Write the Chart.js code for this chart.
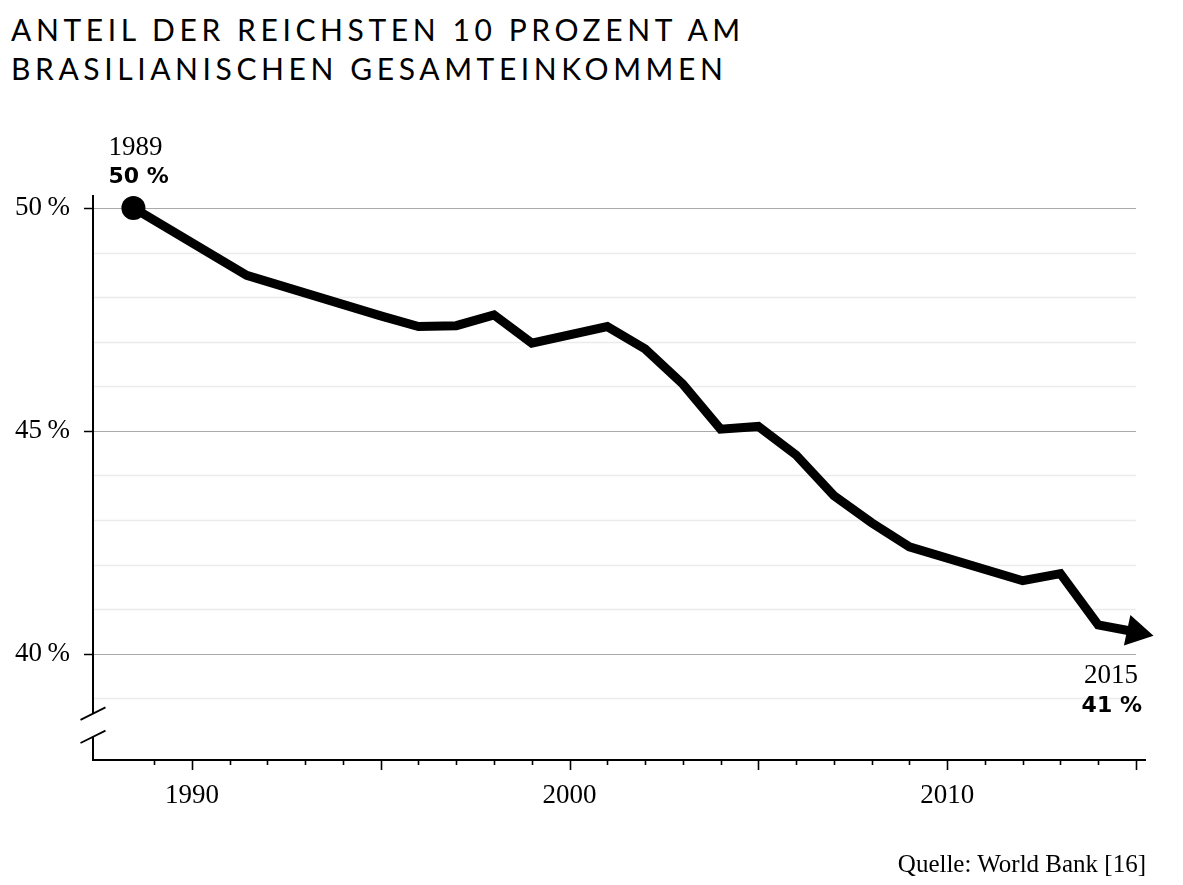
<!DOCTYPE html>
<html lang="de">
<head>
<meta charset="utf-8">
<title>Anteil der reichsten 10 Prozent am brasilianischen Gesamteinkommen</title>
<script src="https://cdn.jsdelivr.net/npm/chart.js@4.4.1/dist/chart.umd.min.js"></script>
<style>
  html, body { margin: 0; padding: 0; background: #fff; }
  body { width: 1183px; height: 885px; position: relative; overflow: hidden; }
  #title {
    position: absolute; left: 11px; top: 10px; margin: 0;
    font: 400 30px/39px Lato, sans-serif; letter-spacing: 4.6px; color: #000;
  }
  #source {
    position: absolute; right: 37px; top: 851px;
    font: 25px/25px "Liberation Serif", serif; color: #000;
  }
  canvas { position: absolute; left: 0; top: 0; }
</style>
</head>
<body>
<h1 id="title">ANTEIL DER REICHSTEN 10 PROZENT AM<br>BRASILIANISCHEN GESAMTEINKOMMEN</h1>
<canvas id="chart" width="1183" height="885"></canvas>
<div id="source">Quelle: World Bank [16]</div>
<script>
  // data (first two points sit off the yearly grid in the original)
  const years = [1988.45, 1991.45, 1995, 1996, 1997, 1998, 1999, 2001, 2002, 2003, 2004,
                 2005, 2006, 2007, 2008, 2009, 2012, 2013, 2014, 2015];
  const shares = [50.0, 48.49, 47.58, 47.34, 47.36, 47.60, 46.97, 47.34, 46.84, 46.05, 45.04,
                  45.10, 44.46, 43.55, 42.94, 42.40, 41.64, 41.80, 40.65, 40.49];

  const xTickLabels = [1990, 2000, 2010];
  const xMinorTicks = [];
  for (let yr = 1989; yr <= 2015; yr++) xMinorTicks.push(yr);
  const yTickLabels = [40, 45, 50];
  const yGridLines = [39, 40, 41, 42, 43, 44, 45, 46, 47, 48, 49, 50];
  const yBreak = [38.66, 38.14];

  const startLabel = ['1989', '50 %'];
  const endLabel = ['2015', '41 %'];

  const serif = '"Liberation Serif", "DejaVu Serif", serif';

  const decor = {
    id: 'decor',
    beforeDatasetsDraw(chart){
      const {ctx, chartArea} = chart;
      const x = chart.scales.x, y = chart.scales.y;
      const left = chartArea.left;
      const gridEnd = x.getPixelForValue(2015);
      ctx.save();
      // horizontal grid
      yGridLines.forEach(v => {
        const py = Math.round(y.getPixelForValue(v)) + 0.5;
        const major = v % 5 === 0;
        ctx.strokeStyle = major ? '#a9a9a9' : '#ebebeb';
        ctx.lineWidth = major ? 1.2 : 1.6;
        ctx.beginPath();
        ctx.moveTo(left, py);
        ctx.lineTo(gridEnd, py);
        ctx.stroke();
        if(major){
          ctx.strokeStyle = '#000';
          ctx.lineWidth = 1.5;
          ctx.beginPath();
          ctx.moveTo(left - 9, py);
          ctx.lineTo(left, py);
          ctx.stroke();
        }
      });
      // y axis with break
      const b1 = y.getPixelForValue(yBreak[0]);
      const b2 = y.getPixelForValue(yBreak[1]);
      ctx.strokeStyle = '#000';
      ctx.lineWidth = 2;
      ctx.beginPath();
      ctx.moveTo(left, chartArea.top);
      ctx.lineTo(left, b1);
      ctx.moveTo(left, b2);
      ctx.lineTo(left, chartArea.bottom);
      ctx.stroke();
      ctx.lineWidth = 1.8;
      [b1, b2].forEach(by => {
        ctx.beginPath();
        ctx.moveTo(left - 12.5, by + 6.2);
        ctx.lineTo(left + 12.5, by - 6.2);
        ctx.stroke();
      });
      // x ticks
      ctx.lineWidth = 1.6;
      xMinorTicks.forEach(yr => {
        const px = Math.round(x.getPixelForValue(yr)) + 0.5;
        const len = yr % 5 === 0 ? 10 : 5;
        ctx.beginPath();
        ctx.moveTo(px, chartArea.bottom);
        ctx.lineTo(px, chartArea.bottom + len);
        ctx.stroke();
      });
      ctx.restore();
    },
    afterDatasetsDraw(chart){
      const {ctx} = chart;
      const pts = chart.getDatasetMeta(0).data;
      const p0 = pts[0];
      const pN = pts[pts.length - 1];
      ctx.save();
      ctx.fillStyle = '#000';
      ctx.textBaseline = 'alphabetic';
      ctx.textAlign = 'left';
      ctx.font = '27px ' + serif;
      ctx.fillText(startLabel[0], p0.x - 25, p0.y - 53);
      ctx.font = 'bold 22px "DejaVu Sans", sans-serif';
      ctx.fillText(startLabel[1], p0.x - 25, p0.y - 25);
      ctx.textAlign = 'right';
      ctx.font = '27px ' + serif;
      ctx.fillText(endLabel[0], pN.x + 2, pN.y + 51);
      ctx.font = 'bold 22px "DejaVu Sans", sans-serif';
      ctx.fillText(endLabel[1], pN.x + 6, pN.y + 80);
      ctx.restore();
    }
  };

  const last = years.length - 1;

  new Chart(document.getElementById('chart'), {
    type: 'line',
    data: {
      datasets: [{
        data: years.map((yr, i) => ({x: yr, y: shares[i]})),
        borderColor: '#000',
        borderWidth: 9,
        borderJoinStyle: 'miter',
        tension: 0,
        fill: false,
        clip: false,
        pointStyle: years.map((_, i) => i === 0 ? 'circle' : (i === last ? 'triangle' : false)),
        pointRadius: years.map((_, i) => i === 0 ? 12 : (i === last ? 18 : 0)),
        pointRotation: years.map((_, i) => i === last ? 102 : 0),
        pointBackgroundColor: '#000',
        pointBorderWidth: 0
      }]
    },
    options: {
      responsive: false,
      devicePixelRatio: 1,
      animation: false,
      events: [],
      layout: { padding: { top: 195, right: 38, left: 0, bottom: 0 } },
      plugins: { legend: { display: false }, tooltip: { enabled: false } },
      scales: {
        x: {
          type: 'linear',
          min: 1987.38,
          max: 2015.24,
          afterFit: s => { s.height = 125; },
          afterBuildTicks: s => { s.ticks = xTickLabels.map(v => ({value: v})); },
          grid: { display: false, drawTicks: false },
          border: { display: true, color: '#000', width: 2 },
          ticks: {
            color: '#000',
            padding: 20,
            font: { family: serif, size: 27 },
            maxRotation: 0,
            callback: v => String(v)
          }
        },
        y: {
          min: 37.62,
          max: 50.29,
          afterFit: s => { s.width = 93; },
          afterBuildTicks: s => { s.ticks = yTickLabels.map(v => ({value: v})); },
          grid: { display: false, drawTicks: false },
          border: { display: false },
          ticks: {
            color: '#000',
            padding: 23,
            font: { family: serif, size: 27 },
            callback: v => v + '\u202F%'
          }
        }
      }
    },
    plugins: [decor]
  });
</script>
</body>
</html>
